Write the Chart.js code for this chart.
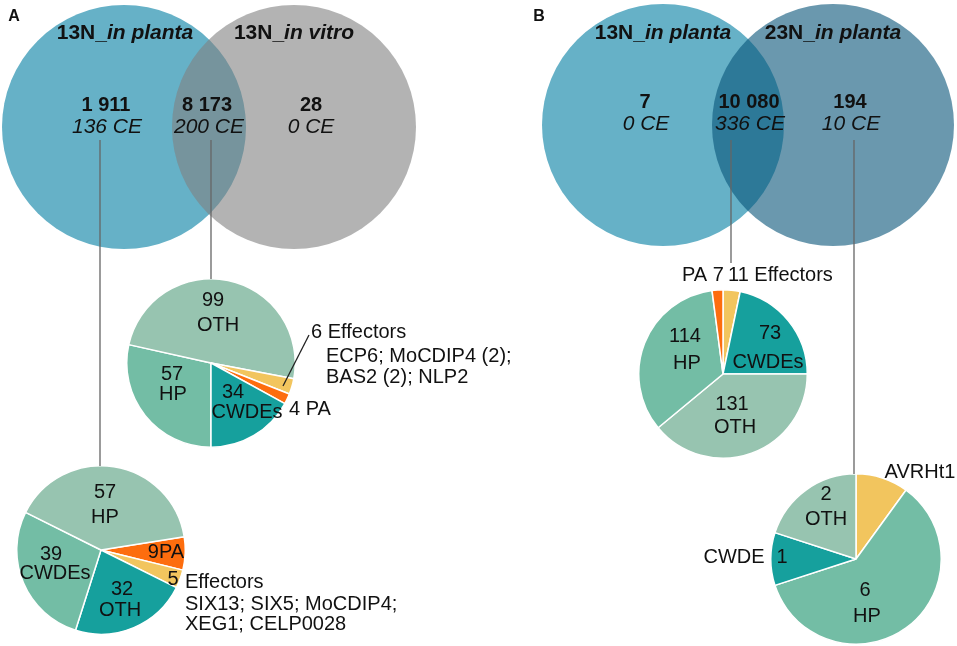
<!DOCTYPE html>
<html>
<head>
<meta charset="utf-8">
<script src="https://cdn.jsdelivr.net/npm/chart.js@4.4.0/dist/chart.umd.min.js"></script>
<style>
  body { margin: 0; background: #fff; }
  #wrap { position: relative; width: 957px; height: 646px; overflow: hidden; }
  #wrap canvas { position: absolute; }
  #venn { left: 0; top: 0; z-index: 2; }
</style>
</head>
<body>
<div id="wrap">
  <canvas id="pieA1" width="170" height="170"></canvas>
  <canvas id="pieA2" width="170" height="170"></canvas>
  <canvas id="pieB1" width="170" height="170"></canvas>
  <canvas id="pieB2" width="172" height="172"></canvas>
  <canvas id="venn" width="957" height="646"></canvas>
</div>
<script>
// ---- data ----
// venn A : only left, shared, only right
const vennANames = ['13N_in planta', '13N_in vitro'];
const vennAGenes = [1911, 8173, 28];
const vennACE = [136, 200, 0];
// venn B
const vennBNames = ['13N_in planta', '23N_in planta'];
const vennBGenes = [7, 10080, 194];
const vennBCE = [0, 336, 10];

// pies (slices in clockwise order)
const pieA1Cats = ['HP', 'OTH', 'Effectors', 'PA', 'CWDEs'];
const pieA1Vals = [57, 99, 6, 4, 34];
const pieA1Effectors = ['ECP6; MoCDIP4 (2);', 'BAS2 (2); NLP2'];

const pieA2Cats = ['PA', 'Effectors', 'OTH', 'CWDEs', 'HP'];
const pieA2Vals = [9, 5, 32, 39, 57];
const pieA2Effectors = ['SIX13; SIX5; MoCDIP4;', 'XEG1; CELP0028'];

const pieB1Cats = ['Effectors', 'CWDEs', 'OTH', 'HP', 'PA'];
const pieB1Vals = [11, 73, 131, 114, 7];

const pieB2Cats = ['AVRHt1', 'HP', 'CWDE', 'OTH'];
const pieB2Vals = [1, 6, 1, 2];

// ---- styles / layout ----
const LIGHT = '#97c4b0', MED = '#73bda5', TEAL = '#16a09d', YEL = '#f2c55e', ORA = '#fd6d0e';
const FONT = '"Liberation Sans", Arial, sans-serif';
const W = 957, H = 646;

const pies = [
  { id: 'pieA1', cats: pieA1Cats, vals: pieA1Vals, cx: 211, cy: 363, rot: 180, colors: [MED, LIGHT, YEL, ORA, TEAL] },
  { id: 'pieA2', cats: pieA2Cats, vals: pieA2Vals, cx: 101, cy: 550, rot: 81, colors: [ORA, YEL, TEAL, MED, LIGHT] },
  { id: 'pieB1', cats: pieB1Cats, vals: pieB1Vals, cx: 723, cy: 374, rot: 0, colors: [YEL, TEAL, LIGHT, MED, ORA] },
  { id: 'pieB2', cats: pieB2Cats, vals: pieB2Vals, cx: 856, cy: 559, rot: 0, colors: [YEL, MED, TEAL, LIGHT] }
];

// venn circles: centre + radius in px
const circles = [
  { x: 124, y: 127, r: 122, color: '#66b1c7', order: 4 },
  { x: 294, y: 127, r: 122, color: 'rgba(128,128,128,0.6)', order: 3 },
  { x: 663, y: 125, r: 121, color: '#66b1c7', order: 4 },
  { x: 833, y: 125, r: 121, color: 'rgba(7,83,120,0.6)', order: 3 }
];

function fmt(n) {
  return String(n).replace(/\B(?=(\d{3})+(?!\d))/g, ' ');
}

pies.forEach(function(p) {
  const cv = document.getElementById(p.id);
  cv.style.left = (p.cx - cv.width / 2) + 'px';
  cv.style.top = (p.cy - cv.height / 2) + 'px';
  new Chart(cv, {
    type: 'pie',
    data: {
      labels: p.cats,
      datasets: [{ data: p.vals, backgroundColor: p.colors, borderColor: '#fff', borderWidth: 1.5 }]
    },
    options: {
      responsive: false, animation: false, events: [],
      rotation: p.rot,
      layout: { padding: 0 },
      plugins: { legend: { display: false }, tooltip: { enabled: false } }
    }
  });
});

// ---- texts ----
const N20 = '20px ' + FONT, B20 = 'bold 20px ' + FONT, I21 = 'italic 21px ' + FONT;
const B21 = 'bold 21px ' + FONT, BI21 = 'italic bold 21px ' + FONT;
let texts = [];
function t(str, x, y, font, align) {
  texts.push({ parts: [{ s: str, f: font || N20 }], x: x, y: y, align: align || 'center' });
}
function title(name, x, y) {
  const i = name.indexOf('_') + 1;
  texts.push({ parts: [{ s: name.slice(0, i), f: B21 }, { s: name.slice(i), f: BI21 }], x: x, y: y, align: 'center' });
}

// panel A
t('A', 14, 17, 'bold 16px ' + FONT);
title(vennANames[0], 125, 33);
title(vennANames[1], 294, 33);
t(fmt(vennAGenes[0]), 106, 105, B20); t(vennACE[0] + ' CE', 107, 127, I21);
t(fmt(vennAGenes[1]), 207, 105, B20); t(vennACE[1] + ' CE', 209, 127, I21);
t(fmt(vennAGenes[2]), 311, 105, B20); t(vennACE[2] + ' CE', 311, 127, I21);

t(String(pieA1Vals[1]), 213, 300); t(pieA1Cats[1], 218, 325);
t(String(pieA1Vals[0]), 172, 374); t(pieA1Cats[0], 173, 394);
t(String(pieA1Vals[4]), 233, 392); t(pieA1Cats[4], 247, 412);
t(pieA1Vals[3] + ' ' + pieA1Cats[3], 289, 409, N20, 'left');
t(pieA1Vals[2] + ' ' + pieA1Cats[2], 311, 332, N20, 'left');
t(pieA1Effectors[0], 326, 356, N20, 'left');
t(pieA1Effectors[1], 326, 377, N20, 'left');

t(String(pieA2Vals[4]), 105, 492); t(pieA2Cats[4], 105, 517);
t(String(pieA2Vals[3]), 51, 554); t(pieA2Cats[3], 55, 573);
t(String(pieA2Vals[2]), 122, 589); t(pieA2Cats[2], 120, 610);
t(pieA2Vals[0] + pieA2Cats[0], 166, 552);
t(String(pieA2Vals[1]), 173, 579);
t(pieA2Cats[1], 185, 582, N20, 'left');
t(pieA2Effectors[0], 185, 604, N20, 'left');
t(pieA2Effectors[1], 185, 624, N20, 'left');

// panel B
t('B', 539, 17, 'bold 16px ' + FONT);
title(vennBNames[0], 663, 33);
title(vennBNames[1], 833, 33);
t(fmt(vennBGenes[0]), 645, 102, B20); t(vennBCE[0] + ' CE', 646, 124, I21);
t(fmt(vennBGenes[1]), 749, 102, B20); t(vennBCE[1] + ' CE', 750, 124, I21);
t(fmt(vennBGenes[2]), 850, 102, B20); t(vennBCE[2] + ' CE', 851, 124, I21);

t(pieB1Cats[4] + ' ' + pieB1Vals[4], 682, 275, N20, 'left');
t(pieB1Vals[0] + ' ' + pieB1Cats[0], 728, 275, N20, 'left');
t(String(pieB1Vals[1]), 770, 333); t(pieB1Cats[1], 768, 362);
t(String(pieB1Vals[3]), 685, 336); t(pieB1Cats[3], 687, 363);
t(String(pieB1Vals[2]), 732, 404); t(pieB1Cats[2], 735, 427);

t(pieB2Cats[0], 920, 472);
t(String(pieB2Vals[3]), 826, 494); t(pieB2Cats[3], 826, 519);
t(pieB2Cats[2], 734, 557); t(String(pieB2Vals[2]), 782, 557);
t(String(pieB2Vals[1]), 865, 590); t(pieB2Cats[1], 867, 616);

const textPlugin = {
  id: 'texts',
  afterDraw: function(chart) {
    const ctx = chart.ctx, xs = chart.scales.x, ys = chart.scales.y;
    ctx.save();
    ctx.fillStyle = '#111';
    ctx.textBaseline = 'middle';
    ctx.textAlign = 'left';
    texts.forEach(function(it) {
      let w = 0;
      it.parts.forEach(function(p) { ctx.font = p.f; w += ctx.measureText(p.s).width; });
      let x = xs.getPixelForValue(it.x);
      if (it.align === 'center') x -= w / 2;
      const y = ys.getPixelForValue(it.y);
      it.parts.forEach(function(p) {
        ctx.font = p.f;
        ctx.fillText(p.s, x, y);
        x += ctx.measureText(p.s).width;
      });
    });
    ctx.restore();
  }
};

// ---- venn circles + connector lines ----
function seg(x1, y1, x2, y2, color) {
  return { type: 'line', data: [{ x: x1, y: y1 }, { x: x2, y: y2 }], borderColor: color, borderWidth: 1.3,
           pointRadius: 0, fill: false, order: 1, clip: false };
}

// bubble charts pad the chart area by the largest radius, so shift the
// scale limits by the same amount to keep 1 unit = 1 px
const PAD = Math.max.apply(null, circles.map(function(c) { return c.r; }));

let vennSets = circles.map(function(c) {
  return { data: [{ x: c.x, y: c.y, r: c.r }], backgroundColor: c.color, borderWidth: 0, order: c.order, clip: false };
});
vennSets.push(seg(100, 140, 100, 466, '#666'));
vennSets.push(seg(211, 140, 211, 279, '#666'));
vennSets.push(seg(731, 140, 731, 263, '#666'));
vennSets.push(seg(854, 140, 854, 474, '#666'));
vennSets.push(seg(283, 386, 309, 335, '#222'));

new Chart(document.getElementById('venn'), {
  type: 'bubble',
  data: { datasets: vennSets },
  options: {
    responsive: false, animation: false, events: [],
    layout: { padding: 0 },
    plugins: { legend: { display: false }, tooltip: { enabled: false } },
    scales: {
      x: { type: 'linear', min: PAD, max: W - PAD, display: false },
      y: { type: 'linear', min: PAD, max: H - PAD, reverse: true, display: false }
    }
  },
  plugins: [textPlugin]
});
</script>
</body>
</html>
